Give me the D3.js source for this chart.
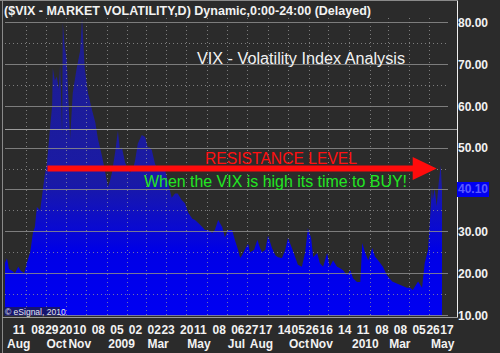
<!DOCTYPE html>
<html><head><meta charset="utf-8">
<script src="https://cdn.jsdelivr.net/npm/d3@7"></script>
<style>body{margin:0;background:#2b2b2b;}svg{display:block}</style>
</head><body><svg id="c" width="500" height="353"></svg>
<script>
// ---------- data ----------
const domainDates = ["2008-08-01", "2010-05-21"];
const dates = ["2008-08-01","2008-08-04","2008-08-07","2008-08-12","2008-08-16","2008-08-21","2008-08-25","2008-08-30","2008-09-03","2008-09-08","2008-09-12","2008-09-15","2008-09-18","2008-09-23","2008-09-27","2008-09-30","2008-10-03","2008-10-08","2008-10-11","2008-10-12","2008-10-15","2008-10-18","2008-10-21","2008-10-23","2008-10-26","2008-10-27","2008-10-30","2008-11-02","2008-11-07","2008-11-11","2008-11-14","2008-11-17","2008-11-22","2008-11-25","2008-11-28","2008-11-29","2008-12-04","2008-12-07","2008-12-10","2008-12-15","2008-12-19","2008-12-22","2008-12-25","2008-12-30","2009-01-03","2009-01-06","2009-01-09","2009-01-14","2009-01-18","2009-01-21","2009-01-24","2009-01-29","2009-02-02","2009-02-05","2009-02-10","2009-02-13","2009-02-17","2009-02-20","2009-02-23","2009-02-28","2009-03-04","2009-03-07","2009-03-10","2009-03-15","2009-03-19","2009-03-22","2009-03-30","2009-04-03","2009-04-06","2009-04-09","2009-04-14","2009-04-18","2009-04-24","2009-04-29","2009-05-04","2009-05-10","2009-05-14","2009-05-19","2009-05-25","2009-05-29","2009-06-03","2009-06-09","2009-06-13","2009-06-18","2009-06-24","2009-06-28","2009-07-03","2009-07-09","2009-07-13","2009-07-18","2009-07-21","2009-07-24","2009-07-28","2009-08-02","2009-08-05","2009-08-11","2009-08-16","2009-08-20","2009-08-23","2009-08-28","2009-09-01","2009-09-07","2009-09-12","2009-09-16","2009-09-22","2009-09-27","2009-10-01","2009-10-07","2009-10-12","2009-10-16","2009-10-22","2009-10-27","2009-10-31","2009-11-05","2009-11-08","2009-11-14","2009-11-18","2009-11-23","2009-11-29","2009-12-03","2009-12-08","2009-12-14","2009-12-18","2009-12-23","2009-12-29","2010-01-03","2010-01-07","2010-01-13","2010-01-18","2010-01-21","2010-01-25","2010-01-30","2010-02-05","2010-02-09","2010-02-14","2010-02-21","2010-02-27","2010-03-07","2010-03-14","2010-03-22","2010-03-29","2010-04-03","2010-04-07","2010-04-15","2010-04-21","2010-04-25","2010-04-30","2010-05-03","2010-05-06","2010-05-07","2010-05-10","2010-05-13","2010-05-16","2010-05-19","2010-05-21"];
const vix = [22.5,23.5,21,20.5,20,21.5,20.5,20,22.5,25,29.6,31,35.8,35,40,43.5,46,55,60,69,66,67,64,70,53,79.8,74,71,52,63,66,69,73,81,72,69,63,61,59,56,52,50,48,44,40.6,42,44,49,54,49.4,50,46.3,45,44,45,47,51,52,53,52.5,50,50,49.4,46,45,44.6,44.6,42,40,38,39,39,37.5,36.7,34.4,33,32.7,32,31,30.3,30.3,29.6,30.3,32.7,31,28.6,30.3,30.3,28,25.5,23.6,24.3,25.5,27,25,25.5,28,26,25,25.5,29,26,24.3,23.8,23.6,25.5,28.4,26,23.8,22,21.5,25,30.7,28.4,23.8,24.8,22.4,21.5,24.8,21.5,23,21.5,21.2,20.7,19.5,20.7,18.8,17.9,17.9,27.2,25,23,26,24,23,21.5,19.5,18,17.5,17,16.5,16.5,16,18,16.5,22.4,25.5,33,41,37.5,40.3,36,41.5,45.8,40.1];
const yTicks = [10,20,30,40,50,60,70,80];
const yMinor = [15,25,35,45,65,75];
const extraLevel = [54.4];
const tickDates = ["2008-08-11","2008-09-08","2008-09-29","2008-10-20","2008-11-10","2008-12-08","2009-01-05","2009-02-02","2009-03-02","2009-03-23","2009-04-20","2009-05-11","2009-06-08","2009-07-06","2009-07-27","2009-08-17","2009-09-14","2009-10-05","2009-10-26","2009-11-16","2009-12-14","2010-01-11","2010-02-08","2010-03-08","2010-04-05","2010-04-26","2010-05-17"];
const monthDates = ["2008-08-01","2008-10-01","2008-11-03","2009-01-02","2009-03-02","2009-05-01","2009-07-01","2009-08-03","2009-10-01","2009-11-02","2010-01-04","2010-03-01","2010-05-03"];
const monthLabels = ["Aug","Oct","Nov","2009","Mar","May","Jul","Aug","Oct","Nov","2010","Mar","May"];
const resistance = {level: 45, from: "2008-10-04", to: "2010-05-13"};
const titleText = "($VIX - MARKET VOLATILITY,D) Dynamic,0:00-24:00 (Delayed)";

// ---------- scales ----------
const parse = d3.utcParse("%Y-%m-%d");
const W = 500, H = 353;
const plot = {left: 5, right: 457, top: 0, bottom: 316};
const x = d3.scaleUtc().domain(domainDates.map(parse)).range([5, 442]);
const y = d3.scaleLinear().domain([10, 80]).range([315, 22]);
const svg = d3.select("#c");
const data = dates.map((d, i) => ({date: parse(d), v: vix[i]}));
const font = "Liberation Sans, Arial, sans-serif";

svg.append("rect").attr("width", W).attr("height", H).attr("fill", "#2b2b2b");

const defs = svg.append("defs");
const grad = defs.append("linearGradient").attr("id", "g").attr("gradientUnits", "userSpaceOnUse")
  .attr("x1", 0).attr("x2", 0).attr("y1", y(80)).attr("y2", y(10));
[[0, "#1e1e8c"], [0.55, "#1a1aa6"], [0.7, "#0a0ad0"], [0.78, "#0000e6"], [1, "#0000f2"]]
  .forEach(([o, c]) => grad.append("stop").attr("offset", o).attr("stop-color", c));

const area = d3.area().x(d => x(d.date)).y0(plot.bottom).y1(d => y(d.v)).curve(d3.curveLinear);
svg.append("path").datum(data).attr("d", area).attr("fill", "url(#g)");

// vertical dotted gridlines at month starts
const months = d3.utcMonth.range(parse("2008-09-01"), parse("2010-05-21"));
svg.append("g").selectAll("line").data(months).join("line")
  .attr("x1", d => Math.round(x(d)) + 0.5).attr("x2", d => Math.round(x(d)) + 0.5)
  .attr("y1", plot.top + 18).attr("y2", plot.bottom)
  .attr("stroke", "#9a9a9a").attr("stroke-dasharray", "1,3").attr("opacity", 0.75);

// horizontal gridlines
svg.append("g").selectAll("line").data(yMinor).join("line")
  .attr("x1", 5).attr("x2", 448).attr("y1", d => Math.round(y(d)) + 0.5).attr("y2", d => Math.round(y(d)) + 0.5)
  .attr("stroke", "#9a9a9a").attr("stroke-dasharray", "1,3").attr("opacity", 0.75);
svg.append("g").selectAll("line").data(yTicks).join("line")
  .attr("x1", 5).attr("x2", 448).attr("y1", d => Math.round(y(d)) + 0.5).attr("y2", d => Math.round(y(d)) + 0.5)
  .attr("stroke", "#8c8c8c").attr("opacity", 0.85);
svg.append("g").selectAll("line").data(extraLevel).join("line")
  .attr("x1", 5).attr("x2", 457).attr("y1", d => Math.round(y(d)) + 0.5).attr("y2", d => Math.round(y(d)) + 0.5)
  .attr("stroke", "#9c9c9c");

// borders
svg.append("line").attr("x1", 2.5).attr("x2", 2.5).attr("y1", 0).attr("y2", H).attr("stroke", "#8a8a8a");
svg.append("line").attr("x1", 457.5).attr("x2", 457.5).attr("y1", 0).attr("y2", plot.bottom + 2).attr("stroke", "#f0f0f0");
svg.append("line").attr("x1", 2).attr("x2", 458).attr("y1", plot.bottom + 1.5).attr("y2", plot.bottom + 1.5).attr("stroke", "#9a9a9a");
svg.append("line").attr("x1", 0).attr("x2", 458).attr("y1", 0.5).attr("y2", 0.5).attr("stroke", "#8a8a8a");

// title
svg.append("text").attr("x", 4).attr("y", 15).text(titleText)
  .attr("font-family", font).attr("font-weight", "bold").attr("font-size", 13)
  .attr("fill", "#f2f2f2").attr("textLength", 367).attr("lengthAdjust", "spacingAndGlyphs");

// right axis labels
const yAxis = d3.axisRight(y).tickValues(yTicks).tickFormat(d3.format(".2f")).tickSize(0).tickPadding(0);
const ya = svg.append("g").attr("transform", "translate(458,0)").call(yAxis);
ya.select(".domain").remove();
ya.selectAll("text").attr("font-family", font).attr("font-weight", "bold")
  .attr("font-size", 12).attr("fill", "#f2f2f2").attr("dy", "0.36em");

// last value tag
const last = data[data.length - 1];
svg.append("rect").attr("x", 457).attr("y", Math.round(y(last.v)) - 7).attr("width", 32).attr("height", 15).attr("fill", "#0000f0");
svg.append("text").attr("x", 458).attr("y", y(last.v)).attr("dy", "0.36em").text(d3.format(".2f")(last.v))
  .attr("font-family", font).attr("font-weight", "bold").attr("font-size", 12).attr("fill", "#5a5aff");

// x axis labels: day row and month row, left-aligned at their dates
const dayFmt = d3.utcFormat("%d");
const xl = svg.append("g").attr("font-family", font).attr("font-weight", "bold").attr("font-size", 12).attr("fill", "#f2f2f2");
xl.selectAll("text.day").data(tickDates).join("text").attr("class", "day")
  .attr("x", d => x(parse(d)) + 1).attr("y", 334).text(d => dayFmt(parse(d)));
xl.selectAll("text.mon").data(monthDates).join("text").attr("class", "mon")
  .attr("x", d => Math.max(7, x(parse(d)) + 1)).attr("y", 348).text((d, i) => monthLabels[i]);

// annotations
svg.append("text").attr("x", 197).attr("y", 64).text("VIX - Volatility Index Analysis")
  .attr("font-family", font).attr("font-size", 16).attr("fill", "#f2f2f2").attr("textLength", 208).attr("lengthAdjust", "spacingAndGlyphs");
svg.append("text").attr("x", 205).attr("y", 164).text("RESISTANCE LEVEL")
  .attr("font-family", font).attr("font-size", 16).attr("fill", "#ff1010").attr("textLength", 152).attr("lengthAdjust", "spacingAndGlyphs");
const ry = y(resistance.level), rx0 = x(parse(resistance.from)), rx1 = x(parse(resistance.to));
svg.append("line").attr("x1", rx0).attr("x2", rx1 - 20).attr("y1", ry).attr("y2", ry).attr("stroke", "#ff0c0c").attr("stroke-width", 6);
svg.append("path").attr("d", `M${rx1 - 24},${ry - 11.5}L${rx1},${ry}L${rx1 - 24},${ry + 11.5}Z`).attr("fill", "#ff0c0c");
svg.append("text").attr("x", 144).attr("y", 187).text("When the VIX is high its time to BUY!")
  .attr("font-family", font).attr("font-size", 16).attr("fill", "#22e622").attr("textLength", 263).attr("lengthAdjust", "spacingAndGlyphs");

// copyright
svg.append("rect").attr("x", 4).attr("y", 307).attr("width", 56).attr("height", 9).attr("fill", "#1a1a50").attr("opacity", 0.8);
svg.append("text").attr("x", 5).attr("y", 315).text("© eSignal, 2010")
  .attr("font-family", font).attr("font-size", 8.5).attr("fill", "#e8e8e8");
</script></body></html>
